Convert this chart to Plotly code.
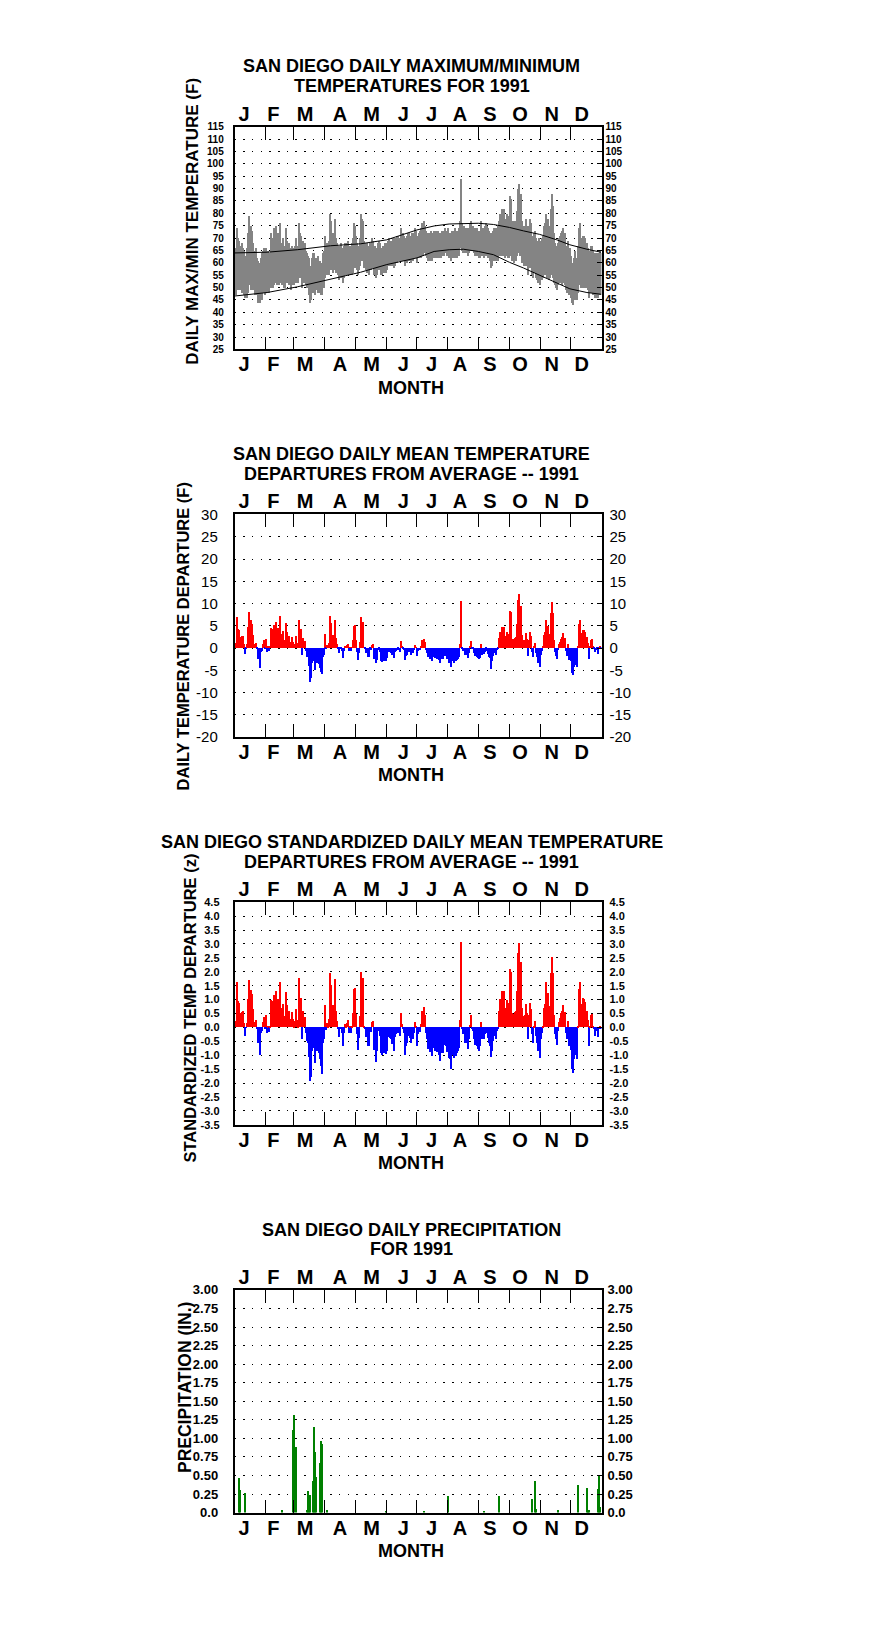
import plotly.graph_objects as go

# ---------------- DATA ----------------
days = list(range(1, 366))
month_letters = ["J", "F", "M", "A", "M", "J", "J", "A", "S", "O", "N", "D"]

# daily maximum temperature (F), 1991
tmax = [
    66, 74, 70, 69, 67, 64, 68, 66, 65, 62, 63, 66, 72, 79, 67, 75, 73, 68, 64, 65, 66, 62, 61, 60, 58, 62, 64, 65, 66, 63, 66,
    63, 65, 63, 64, 72, 70, 68, 74, 72, 75, 70, 72, 69, 76, 68, 67, 70, 64, 67, 74, 69, 66, 68, 65, 66, 67, 66, 64,
    67, 70, 67, 66, 76, 72, 71, 64, 69, 67, 68, 65, 64, 63, 62, 58, 59, 62, 64, 64, 60, 62, 62, 63, 61, 61, 60, 59, 64, 65, 71,
    66, 68, 67, 69, 80, 77, 68, 72, 70, 78, 70, 68, 67, 66, 67, 68, 66, 65, 67, 68, 67, 68, 69, 66, 67, 66, 68, 70, 76, 75,
    71, 68, 66, 67, 70, 80, 78, 77, 69, 68, 67, 68, 66, 67, 68, 68, 70, 69, 66, 67, 65, 66, 68, 69, 68, 66, 66, 67, 66, 68, 66,
    68, 69, 70, 69, 69, 68, 70, 68, 70, 70, 71, 71, 70, 70, 74, 72, 72, 71, 69, 70, 71, 72, 72, 71, 71, 72, 71, 72, 74, 73,
    71, 72, 73, 74, 76, 75, 77, 75, 73, 72, 71, 72, 71, 73, 71, 72, 73, 72, 73, 72, 73, 72, 71, 72, 73, 72, 73, 74, 73, 72, 74,
    72, 72, 71, 73, 73, 72, 74, 73, 73, 73, 74, 77, 94, 76, 75, 75, 74, 74, 74, 73, 74, 76, 77, 75, 75, 74, 74, 74, 74, 73, 73,
    73, 77, 74, 74, 74, 75, 76, 75, 74, 73, 72, 70, 72, 73, 74, 74, 73, 74, 75, 77, 80, 78, 82, 77, 82, 78, 76, 80, 76, 79,
    87, 86, 77, 76, 77, 77, 77, 81, 90, 92, 86, 88, 77, 75, 75, 75, 78, 75, 71, 75, 78, 76, 71, 70, 72, 73, 70, 69, 68, 70, 67,
    69, 70, 71, 75, 76, 80, 73, 78, 75, 72, 82, 88, 83, 72, 68, 67, 66, 68, 70, 71, 72, 73, 74, 70, 72, 67, 66, 69, 65, 66,
    63, 60, 60, 62, 65, 62, 61, 67, 74, 76, 70, 68, 71, 71, 70, 67, 68, 66, 62, 65, 67, 67, 65, 64, 63, 64, 64, 62, 64, 65, 64,
]

# daily minimum temperature (F), 1991
tmin = [
    47, 50, 49, 50, 49, 49, 48, 50, 47, 46, 47, 46, 48, 51, 51, 49, 50, 49, 49, 47, 47, 48, 44, 45, 44, 47, 45, 48, 48, 47, 48,
    48, 48, 48, 50, 50, 52, 50, 51, 53, 52, 51, 51, 51, 54, 52, 51, 51, 50, 50, 52, 52, 52, 51, 52, 49, 52, 51, 51,
    52, 52, 53, 52, 55, 54, 56, 50, 53, 52, 52, 51, 50, 50, 47, 44, 45, 49, 48, 50, 47, 49, 50, 48, 50, 48, 47, 47, 50, 50, 54,
    55, 55, 55, 55, 57, 57, 57, 56, 57, 58, 56, 56, 55, 53, 55, 54, 55, 52, 54, 55, 56, 55, 55, 55, 56, 55, 55, 56, 58, 59,
    58, 57, 55, 57, 59, 61, 61, 62, 58, 58, 57, 56, 56, 55, 58, 57, 58, 59, 55, 56, 54, 55, 58, 57, 57, 55, 55, 56, 56, 56, 56,
    57, 59, 59, 59, 59, 59, 60, 58, 59, 60, 60, 61, 61, 61, 62, 61, 61, 61, 59, 60, 60, 61, 61, 61, 60, 61, 61, 62, 62, 62,
    60, 62, 62, 62, 63, 63, 64, 64, 63, 62, 61, 62, 61, 63, 61, 62, 63, 62, 63, 62, 63, 62, 62, 62, 63, 63, 63, 64, 64, 63, 63,
    62, 62, 61, 62, 63, 62, 63, 62, 62, 63, 63, 66, 68, 65, 64, 65, 64, 64, 64, 63, 64, 65, 66, 65, 65, 64, 63, 64, 63, 63, 62,
    62, 65, 63, 63, 62, 63, 63, 63, 62, 62, 61, 58, 59, 61, 61, 62, 61, 62, 61, 63, 63, 64, 63, 63, 64, 62, 63, 63, 62, 62,
    63, 63, 61, 62, 60, 61, 61, 63, 64, 66, 63, 63, 60, 60, 59, 60, 59, 59, 55, 58, 58, 58, 55, 54, 56, 56, 54, 53, 52, 53, 51,
    53, 53, 54, 55, 55, 55, 54, 54, 53, 54, 55, 55, 54, 52, 51, 50, 49, 51, 52, 52, 52, 51, 52, 52, 51, 49, 48, 50, 47, 49,
    46, 44, 43, 45, 47, 45, 45, 48, 51, 51, 50, 50, 51, 50, 50, 50, 50, 49, 46, 48, 48, 49, 47, 47, 46, 46, 47, 46, 47, 47, 47,
]

# long-term normal max / min (F), read at selected days
norm_days = [1, 33, 63, 96, 126, 152, 182, 199, 214, 228, 243, 258, 274, 288, 304, 321, 334, 351, 365]
norm_max = [64.0, 64.3, 65.3, 66.9, 67.7, 69.3, 73.3, 74.9, 75.7, 75.8, 76.0, 75.5, 74.3, 72.9, 71.5, 69.3, 67.3, 65.5, 64.3]
norm_min = [46.6, 48.0, 50.3, 53.5, 56.2, 59.3, 62.0, 64.6, 65.3, 65.5, 64.6, 63.3, 60.2, 57.9, 54.9, 51.9, 49.5, 48.0, 47.3]

# daily mean temperature departure (F)
dep_f = [
    1.1, 6.9, 4.2, 3.9, 2.3, 0.9, 2.5, 2.6, 0.7, -1.4, -0.1, 0.7, 4.6, 7.9, 2.9, 6.1, 5.4, 2.9, 0.8, 0.5, 1.1, -0.4, -2.5, -2.5, -4.5, -0.9, -0.7, 0.9, 1.7, -0.2, 2.0,
    -0.9, 0.2, -0.8, 0.2, 4.4, 4.2, 2.6, 5.1, 5.1, 5.8, 3.8, 4.5, 3.3, 7.2, 3.0, 2.0, 3.7, 0.4, 1.7, 5.5, 3.6, 2.0, 2.6, 1.3, 0.5, 2.4, 1.3, 0.3,
    0.9, 2.5, 1.1, 0.2, 6.3, 3.9, 4.1, -1.7, 2.2, 0.8, 1.4, -0.8, -2.0, -2.2, -4.1, -7.7, -6.9, -3.4, -2.9, -2.2, -5.0, -3.4, -2.9, -3.4, -3.6, -4.5, -5.5, -6.0, -2.2, -1.7, 3.1,
    -0.4, 0.5, 0.2, 1.1, 7.0, 5.5, 1.1, 2.9, 2.3, 6.3, 2.1, 0.8, -0.2, -1.3, -0.3, -0.1, -0.7, -2.4, -0.7, 0.4, 0.2, 0.5, 0.9, -0.7, 0.1, -0.8, 0.1, 1.8, 4.9, 5.0,
    1.6, -0.9, -2.7, -1.3, 1.3, 6.8, 5.7, 5.8, 0.1, -0.2, -1.2, -1.2, -2.2, -2.2, -0.4, -0.6, 0.6, 0.7, -2.6, -1.8, -3.5, -2.8, -0.5, -0.3, -1.0, -3.0, -3.2, -2.2, -3.0, -1.8, -3.1,
    -2.4, -1.0, -0.7, -1.1, -1.2, -1.7, -0.6, -2.4, -1.0, -0.7, -0.6, -0.2, -0.6, -0.9, 1.4, 0.3, -0.1, -0.6, -2.8, -1.9, -1.6, -0.9, -0.6, -1.1, -1.6, -0.9, -1.2, -0.6, 0.5, 0.1,
    -1.9, -0.7, -0.5, 0.3, 1.6, 0.9, 2.0, 1.3, -0.6, -1.2, -2.2, -1.6, -2.5, -1.1, -2.9, -2.1, -1.2, -2.4, -1.7, -2.5, -1.6, -2.7, -3.4, -2.6, -2.2, -2.6, -1.8, -1.2, -1.9, -2.5, -1.6,
    -3.4, -3.4, -4.3, -2.9, -2.6, -3.4, -2.0, -3.1, -2.8, -2.6, -2.2, 0.8, 10.5, -0.2, -0.8, -0.5, -1.7, -1.7, -1.7, -2.3, -1.3, 0.2, 1.4, -0.2, -0.4, -1.3, -1.9, -1.3, -2.0, -2.3, -2.6,
    -2.4, 0.7, -1.6, -1.4, -1.5, -0.9, -0.2, -0.7, -1.4, -2.0, -2.4, -4.9, -3.1, -1.8, -1.2, -0.8, -1.6, -0.5, -0.3, 2.2, 3.6, 2.9, 4.6, 2.2, 4.6, 2.5, 1.5, 3.6, 1.6, 3.1,
    8.3, 8.0, 2.0, 1.9, 1.8, 2.2, 2.4, 5.2, 10.6, 12.0, 8.2, 9.4, 2.8, 1.6, 1.7, 1.8, 3.3, 2.0, -1.8, 1.8, 3.5, 2.6, -1.0, -2.2, 0.2, 1.0, -1.3, -2.2, -3.4, -1.7, -4.4,
    -1.7, -0.8, 0.2, 2.8, 3.4, 6.2, 1.8, 4.9, 3.0, 1.8, 7.8, 10.3, 7.8, 1.8, -1.0, -1.8, -2.5, -0.6, 0.7, 1.3, 2.0, 2.4, 3.2, 1.5, 2.2, -0.8, -1.8, 0.8, -2.7, -1.0,
    -3.0, -5.7, -6.2, -4.4, -1.1, -3.8, -4.3, 0.2, 5.2, 6.2, 3.2, 2.1, 4.0, 3.9, 3.4, 1.9, 2.3, 1.0, -2.6, 0.2, 1.7, 1.9, 0.2, -0.3, -1.1, -0.5, -0.3, -1.4, -0.3, 0.2, -0.3,
]

# standardized daily mean temperature departure (z)
dep_z = [
    0.24, 1.62, 0.93, 0.87, 0.51, 0.20, 0.55, 0.57, 0.15, -0.30, -0.02, 0.15, 1.02, 1.69, 0.65, 1.35, 1.19, 0.65, 0.18, 0.10, 0.25, -0.08, -0.56, -0.56, -1.00, -0.20, -0.15, 0.20, 0.37, -0.05, 0.45,
    -0.20, 0.05, -0.18, 0.05, 0.99, 0.95, 0.60, 1.17, 1.17, 1.32, 0.87, 1.02, 0.76, 1.64, 0.69, 0.45, 0.85, 0.08, 0.39, 1.25, 0.81, 0.45, 0.60, 0.30, 0.12, 0.54, 0.30, 0.06,
    0.23, 0.65, 0.27, 0.05, 1.76, 1.00, 1.05, -0.44, 0.57, 0.21, 0.36, -0.20, -0.50, -0.56, -1.06, -1.93, -1.77, -0.86, -0.74, -0.56, -1.27, -0.86, -0.74, -0.86, -0.92, -1.15, -1.40, -1.69, -0.56, -0.44, 0.80,
    -0.10, 0.15, 0.05, 0.30, 1.94, 1.52, 0.30, 0.80, 0.63, 1.74, 0.57, 0.21, -0.06, -0.36, -0.08, -0.02, -0.20, -0.68, -0.20, 0.10, 0.06, 0.15, 0.25, -0.20, 0.04, -0.22, 0.04, 0.51, 1.37, 1.40,
    0.49, -0.26, -0.82, -0.38, 0.39, 1.98, 1.74, 1.77, 0.04, -0.05, -0.36, -0.36, -0.68, -0.68, -0.11, -0.18, 0.18, 0.21, -0.80, -0.56, -1.25, -0.86, -0.14, -0.08, -0.30, -0.92, -0.98, -0.68, -0.92, -0.56, -0.95,
    -0.86, -0.35, -0.26, -0.38, -0.44, -0.60, -0.20, -0.86, -0.35, -0.26, -0.20, -0.08, -0.20, -0.32, 0.50, 0.10, -0.05, -0.20, -1.00, -0.68, -0.56, -0.32, -0.20, -0.38, -0.58, -0.32, -0.44, -0.20, 0.18, 0.02,
    -0.68, -0.26, -0.18, 0.10, 0.57, 0.33, 0.73, 0.45, -0.20, -0.44, -0.77, -0.56, -0.88, -0.38, -1.04, -0.74, -0.42, -0.86, -0.62, -0.88, -0.56, -0.98, -1.21, -0.92, -0.80, -0.92, -0.65, -0.44, -0.68, -0.89, -0.56,
    -1.12, -1.13, -1.51, -0.98, -0.87, -1.12, -0.68, -1.04, -0.92, -0.86, -0.74, 0.27, 3.07, -0.08, -0.26, -0.18, -0.58, -0.58, -0.56, -0.77, -0.44, 0.08, 0.45, -0.08, -0.14, -0.44, -0.62, -0.44, -0.68, -0.77, -0.86,
    -0.68, 0.19, -0.44, -0.38, -0.42, -0.26, -0.06, -0.20, -0.38, -0.56, -0.68, -1.07, -0.86, -0.50, -0.32, -0.23, -0.44, -0.14, -0.08, 0.60, 1.00, 0.80, 1.29, 0.60, 1.29, 0.69, 0.42, 0.99, 0.45, 0.87,
    2.08, 2.00, 0.51, 0.48, 0.45, 0.54, 0.60, 1.29, 2.65, 3.01, 2.04, 2.36, 0.69, 0.39, 0.42, 0.45, 0.83, 0.51, -0.44, 0.45, 0.87, 0.65, -0.26, -0.56, 0.04, 0.24, -0.32, -0.56, -0.86, -0.42, -1.10,
    -0.42, -0.20, 0.06, 0.69, 0.85, 1.62, 0.45, 1.23, 0.75, 0.45, 1.96, 2.51, 1.94, 0.45, -0.26, -0.44, -0.63, -0.14, 0.18, 0.33, 0.51, 0.60, 0.81, 0.37, 0.54, -0.20, -0.44, 0.21, -0.68, -0.26,
    -0.80, -1.51, -1.63, -1.15, -0.29, -1.01, -1.13, 0.04, 1.37, 1.64, 0.85, 0.54, 1.05, 1.02, 0.89, 0.51, 0.60, 0.27, -0.68, 0.04, 0.45, 0.49, 0.06, -0.08, -0.30, -0.12, -0.08, -0.36, -0.08, 0.06, -0.08,
]

# daily precipitation (inches): days with measurable rain
precip_days = [4, 5, 10, 47, 58, 59, 61, 72, 73, 74, 75, 78, 79, 80, 81, 85, 86, 87, 92, 151, 188, 212,
               248, 263, 296, 299, 300, 322, 342, 351, 352, 353, 362, 363, 364]
precip_in = [0.47, 0.30, 0.26, 0.03, 1.12, 1.31, 0.88, 0.04, 0.29, 0.24, 0.24, 0.43, 1.15, 0.82, 0.48, 0.67, 0.97, 0.93, 0.04, 0.01, 0.01, 0.23,
             0.02, 0.22, 0.19, 0.43, 0.05, 0.04, 0.37, 0.33, 0.02, 0.03, 0.32, 0.50, 0.07]

# ---------------- LAYOUT CONSTANTS ----------------
W, H = 876, 1634
XL, XR = 234.5, 601.5
PANEL_TOP = [119.0, 510.8, 902.6, 1294.4]
PH = 225.0
month_bounds = [31.5, 59.5, 90.5, 120.5, 151.5, 181.5, 212.5, 243.5, 273.5, 304.5, 334.5]
month_label_pos = [9.95, 39.1, 70.6, 105.4, 136.9, 168.4, 196.6, 224.8, 254.6, 284.5, 316.0, 345.8]
XRANGE = [0.5, 365.5]
FONT = "Liberation Sans"


def fx(p):
    return p / W


def fy(p):
    return 1 - p / H


def ticks(lo, step, n, fmt):
    vals = [round(lo + step * i, 4) for i in range(n)]
    return vals, [fmt(v) for v in vals]


p1v, p1t = ticks(25, 5, 19, lambda v: f"{v:.0f}")
p2v, p2t = ticks(-20, 5, 11, lambda v: f"{v:.0f}")
p3v, p3t = ticks(-3.5, 0.5, 17, lambda v: f"{v:.1f}")
p4v, p4t = ticks(0, 0.25, 13, lambda v: "0.0" if v == 0 else f"{v:.2f}")

panels = [
    dict(yr=[25, 115], tv=p1v, tt=p1t, font=dict(family=FONT, size=10, weight="bold", color="black"), ls=7, rs=3),
    dict(yr=[-20, 30], tv=p2v, tt=p2t, font=dict(family=FONT, size=15, color="black"), ls=12, rs=7),
    dict(yr=[-3.5, 4.5], tv=p3v, tt=p3t, font=dict(family=FONT, size=11, weight="bold", color="black"), ls=11, rs=7),
    dict(yr=[0, 3], tv=p4v, tt=p4t, font=dict(family=FONT, size=13, weight="bold", color="black"), ls=12, rs=5),
]


def aname(kind, n):
    return f"{kind}axis" if n == 1 else f"{kind}axis{n}"


def aref(kind, n):
    return kind if n == 1 else f"{kind}{n}"


fig = go.Figure()
layout = {}

for i, p in enumerate(panels):
    top = PANEL_TOP[i]
    bot = top + PH
    xm, xt, xb = 1 + i, 5 + i, 9 + i
    ym, yr_ = 1 + i, 5 + i
    layout[aname("x", xm)] = dict(
        domain=[fx(XL), fx(XR)], anchor=aref("y", ym), range=XRANGE,
        tickvals=month_bounds, ticktext=[""] * len(month_bounds),
        ticks="inside", ticklen=13, tickwidth=1, tickcolor="black",
        showline=True, linecolor="black", linewidth=1.5, mirror="ticks",
        showgrid=False, zeroline=False, fixedrange=True,
    )
    for n, side in ((xt, "top"), (xb, "bottom")):
        layout[aname("x", n)] = dict(
            overlaying=aref("x", xm), anchor=aref("y", ym), side=side, range=XRANGE,
            tickvals=month_label_pos, ticktext=month_letters, ticks="",
            tickfont=dict(family=FONT, size=20, weight="bold", color="black"),
            ticklabelstandoff=1, showline=False, showgrid=False, zeroline=False, fixedrange=True,
        )
    layout[aname("y", ym)] = dict(
        domain=[fy(bot), fy(top)], anchor=aref("x", xm), range=p["yr"],
        tickvals=p["tv"], ticktext=p["tt"], ticks="", tickfont=p["font"], ticklabelstandoff=p["ls"],
        showgrid=True, gridcolor="black", gridwidth=1, griddash="1.5px,7.2px",
        showline=True, linecolor="black", linewidth=1.5, mirror=True,
        zeroline=False, fixedrange=True,
    )
    layout[aname("y", yr_)] = dict(
        overlaying=aref("y", ym), anchor=aref("x", xm), side="right", range=p["yr"],
        tickvals=p["tv"], ticktext=p["tt"], ticks="inside", ticklen=5, tickwidth=1, tickcolor="black",
        tickfont=p["font"], ticklabelstandoff=p["rs"], showgrid=False, showline=False,
        zeroline=False, fixedrange=True,
    )
    # invisible helper traces so that overlay axes are drawn
    for xa, ya in ((aref("x", xt), aref("y", ym)), (aref("x", xb), aref("y", ym)), (aref("x", xm), aref("y", yr_))):
        fig.add_trace(go.Scatter(x=[month_label_pos[0]], y=[p["yr"][0]], xaxis=xa, yaxis=ya, mode="markers",
                                 marker=dict(size=1, opacity=0), hoverinfo="skip", showlegend=False))

# Panel 1: daily max/min range bars + normals
fig.add_trace(go.Bar(x=days, y=[a - b for a, b in zip(tmax, tmin)], base=tmin, width=1,
                     marker=dict(color="#848484", line=dict(width=0)), xaxis="x", yaxis="y",
                     showlegend=False, hoverinfo="skip"))
fig.add_trace(go.Scatter(x=norm_days, y=norm_max, mode="lines", line=dict(color="black", width=1),
                         xaxis="x", yaxis="y", showlegend=False, hoverinfo="skip"))
fig.add_trace(go.Scatter(x=norm_days, y=norm_min, mode="lines", line=dict(color="black", width=1),
                         xaxis="x", yaxis="y", showlegend=False, hoverinfo="skip"))

# Panel 2: departures (F)
fig.add_trace(go.Bar(x=days, y=dep_f, width=1,
                     marker=dict(color=["#ff0000" if v >= 0 else "#0000ff" for v in dep_f], line=dict(width=0)),
                     xaxis="x2", yaxis="y2", showlegend=False, hoverinfo="skip"))
# Panel 3: standardized departures
fig.add_trace(go.Bar(x=days, y=dep_z, width=1,
                     marker=dict(color=["#ff0000" if v >= 0 else "#0000ff" for v in dep_z], line=dict(width=0)),
                     xaxis="x3", yaxis="y3", showlegend=False, hoverinfo="skip"))
# Panel 4: precipitation
fig.add_trace(go.Bar(x=precip_days, y=precip_in, width=1,
                     marker=dict(color="#008000", line=dict(width=0)),
                     xaxis="x4", yaxis="y4", showlegend=False, hoverinfo="skip"))

# ---------------- TEXT ----------------
titles = [
    ("SAN DIEGO DAILY MAXIMUM/MINIMUM", "TEMPERATURES FOR 1991"),
    ("SAN DIEGO DAILY MEAN TEMPERATURE", "DEPARTURES FROM AVERAGE -- 1991"),
    ("SAN DIEGO STANDARDIZED DAILY MEAN TEMPERATURE", "DEPARTURES FROM AVERAGE -- 1991"),
    ("SAN DIEGO DAILY PRECIPITATION", "FOR 1991"),
]
ytitles = [
    ("DAILY MAX/MIN TEMPERATURE (F)", 193, 215, 17),
    ("DAILY TEMPERATURE DEPARTURE (F)", 183, 634, 16.5),
    ("STANDARDIZED TEMP DEPARTURE (z)", 190, 1010, 16.5),
    ("PRECIPITATION (IN.)", 184.5, 1393, 17.5),
]
ann = []
for i, (l1, l2) in enumerate(titles):
    top = PANEL_TOP[i]
    for txt, off in ((l1, 61), (l2, 41)):
        ann.append(dict(text=txt, x=fx(411.5), y=fy(top - off), xref="paper", yref="paper",
                        xanchor="center", yanchor="middle", showarrow=False,
                        font=dict(family=FONT, size=18, weight="bold", color="black")))
    ann.append(dict(text="MONTH", x=fx(411), y=fy(top + PH + 38.5), xref="paper", yref="paper",
                    xanchor="center", yanchor="middle", showarrow=False,
                    font=dict(family=FONT, size=18, weight="bold", color="black")))
for txt, xp, yp, sz in ytitles:
    ann.append(dict(text=txt, x=fx(xp), y=fy(yp), xref="paper", yref="paper", textangle=-90,
                    xanchor="center", yanchor="middle", showarrow=False,
                    font=dict(family=FONT, size=sz, weight="bold", color="black")))

fig.update_layout(
    width=W, height=H, autosize=False,
    margin=dict(l=0, r=0, t=0, b=0, pad=0),
    paper_bgcolor="white", plot_bgcolor="white",
    barmode="overlay", bargap=0, showlegend=False, hovermode=False,
    annotations=ann, **layout,
)

# place the plot at the very top-left of the page (no default body margin)
page_js = ("document.documentElement.style.margin='0';document.body.style.margin='0';"
           "document.body.style.padding='0';document.documentElement.style.overflow='hidden';"
           "document.body.style.overflow='hidden';")
fig.write_html("out.html", post_script=page_js, config={"displayModeBar": False})
